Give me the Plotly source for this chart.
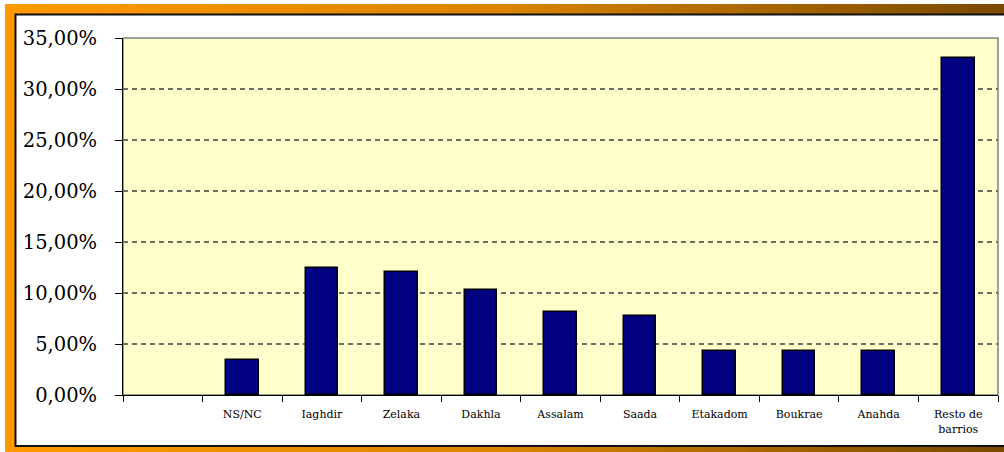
import plotly.graph_objects as go

# Survey distribution by neighbourhood (share of respondents)
barrios = [" ", "NS/NC", "Iaghdir", "Zelaka", "Dakhla", "Assalam", "Saada",
           "Etakadom", "Boukrae", "Anahda", "Resto de<br>barrios"]
porcentajes = [None, 0.0343, 0.1245, 0.1202, 0.1030, 0.0815, 0.0773,
               0.0429, 0.0429, 0.0429, 0.3305]
y_ticks = [0, 0.05, 0.10, 0.15, 0.20, 0.25, 0.30, 0.35]

W, H = 1004, 452
# plot area in pixels
PL, PR, PT, PB = 123, 998, 38, 395

SERIF = "DejaVu Serif"


def px(x):
    return (x - PL) / (PR - PL)


def py(y):
    return (PB - y) / (PB - PT)


def lerp(c0, c1, t):
    return tuple(round(a + (b - a) * t) for a, b in zip(c0, c1))


# orange-to-brown frame gradient
stops = [(0.0, (255, 153, 0)), (0.5, (218, 132, 2)), (1.0, (122, 74, 0))]


def grad(t):
    for (t0, c0), (t1, c1) in zip(stops, stops[1:]):
        if t <= t1:
            return lerp(c0, c1, (t - t0) / (t1 - t0))
    return stops[-1][1]


shapes = []
n = 120
x0f, x1f = 5, W + 2
step = (x1f - x0f) / n
for i in range(n):
    xa = x0f + i * step
    r, g, b = grad(i / (n - 1))
    shapes.append(dict(type="rect", xref="paper", yref="paper",
                       x0=px(xa), x1=px(xa + step + 0.8), y0=py(4), y1=py(H + 2),
                       fillcolor=f"rgb({r},{g},{b})", line=dict(width=0),
                       layer="below"))

# inner white panel with dark edge
shapes.append(dict(type="rect", xref="paper", yref="paper",
                   x0=px(15.5), x1=px(W + 10), y0=py(14.5), y1=py(446),
                   fillcolor="white", line=dict(color="#111111", width=2),
                   layer="below"))
# plot area background
shapes.append(dict(type="rect", xref="paper", yref="paper",
                   x0=0, x1=1, y0=0, y1=1,
                   fillcolor="#FFFFCC", line=dict(color="#808080", width=1.5),
                   layer="below"))

fig = go.Figure(go.Bar(
    x=barrios, y=porcentajes, width=0.41,
    marker=dict(color="#000080", line=dict(color="#000000", width=1.5)),
))

fig.update_layout(
    width=W, height=H,
    margin=dict(l=PL, r=W - PR, t=PT, b=H - PB),
    paper_bgcolor="white", plot_bgcolor="rgba(0,0,0,0)",
    separators=",.",
    showlegend=False,
    shapes=shapes,
    bargap=0,
    font=dict(family=SERIF, color="black"),
)

fig.update_yaxes(
    range=[0, 0.35], tickvals=y_ticks, tickformat=".2%",
    showgrid=True, gridcolor="#6E6E62", gridwidth=1.5, griddash="5px,4px",
    zeroline=False, showline=True, linecolor="black", linewidth=1,
    ticks="outside", ticklen=7, tickcolor="black", tickwidth=1,
    ticklabelstandoff=14,
    tickfont=dict(family=SERIF, size=19.5, color="black"),
)
fig.update_xaxes(
    type="category", range=[-0.5, 10.5],
    showgrid=False, showline=True, linecolor="black", linewidth=1,
    ticks="outside", tickson="boundaries", ticklen=6, tickcolor="black",
    ticklabelstandoff=9,
    tickfont=dict(family=SERIF, size=11, color="black"),
)

fig.write_html("out.html")
